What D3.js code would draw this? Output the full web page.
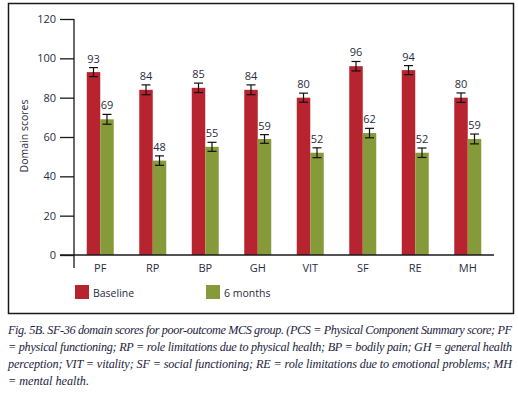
<!DOCTYPE html>
<html>
<head>
<meta charset="utf-8">
<script src="https://cdn.jsdelivr.net/npm/d3@7"></script>
<style>
  html, body { margin: 0; padding: 0; background: #fff; }
  svg { display: block; }
</style>
</head>
<body>
<svg id="chart" width="518" height="394"></svg>
<script>
const categories = ["PF", "RP", "BP", "GH", "VIT", "SF", "RE", "MH"];
const seriesNames = ["Baseline", "6 months"];
const baselineValues = [93, 84, 85, 84, 80, 96, 94, 80];
const sixMonthValues = [69, 48, 55, 59, 52, 62, 52, 59];
const baselineErrors = [2.3, 2.5, 2.4, 2.5, 2.3, 2.4, 2.3, 2.4];
const sixMonthErrors = [2.5, 2.4, 2.3, 2.2, 2.5, 2.4, 2.4, 2.5];
const yTicks = [0, 20, 40, 60, 80, 100, 120];
const captionLines = [
  "Fig. 5B. SF-36 domain scores for poor-outcome MCS group. (PCS = Physical Component Summary score; PF",
  "= physical functioning; RP = role limitations due to physical health; BP = bodily pain; GH = general health",
  "perception; VIT = vitality; SF = social functioning; RE = role limitations due to emotional problems; MH",
  "= mental health."
];

const colors = ["#B7242F", "#869A3A"];
const textColor = "#2a2c40";
const svg = d3.select("#chart");

// frame
svg.append("rect")
  .attr("x", 8.5).attr("y", 3.5).attr("width", 505).attr("height", 310)
  .attr("fill", "none").attr("stroke", "#1a1a1a").attr("stroke-width", 1.5);

const y = d3.scaleLinear().domain([0, 120]).range([255, 19]);
const x = d3.scaleBand().domain(categories).range([74, 494])
  .paddingInner(0.486).paddingOuter(0.243);
const xs = d3.scaleBand().domain(seriesNames).range([0, x.bandwidth()]);

// y axis
const yAxis = d3.axisLeft(y).tickValues(yTicks).tickSize(14).tickPadding(4).tickSizeOuter(0);
const gy = svg.append("g").attr("transform", "translate(74,0)").call(yAxis);
gy.select(".domain").remove();
gy.selectAll(".tick line").attr("stroke", "#1a1a1a").attr("stroke-width", 1.3);
gy.selectAll(".tick text").attr("font-family", "'Open Sans', sans-serif")
  .attr("font-size", 11).attr("fill", textColor);
svg.append("line").attr("x1", 74).attr("x2", 74).attr("y1", y(120)).attr("y2", 268)
  .attr("stroke", "#1a1a1a").attr("stroke-width", 1.3);

// y title
svg.append("text")
  .attr("transform", "translate(28," + 136 + ") rotate(-90)")
  .attr("text-anchor", "middle")
  .attr("font-family", "'Open Sans', sans-serif").attr("font-size", 10.5)
  .attr("fill", textColor).text("Domain scores");

// bars
const rows = categories.map((c, i) => ({
  cat: c,
  vals: [
    { s: seriesNames[0], v: baselineValues[i], e: baselineErrors[i], k: 0 },
    { s: seriesNames[1], v: sixMonthValues[i], e: sixMonthErrors[i], k: 1 }
  ]
}));

const groups = svg.selectAll("g.grp").data(rows).join("g")
  .attr("class", "grp")
  .attr("transform", d => "translate(" + x(d.cat) + ",0)");

groups.selectAll("rect").data(d => d.vals).join("rect")
  .attr("x", d => xs(d.s)).attr("width", xs.bandwidth())
  .attr("y", d => y(d.v)).attr("height", d => y(0) - y(d.v))
  .attr("fill", d => colors[d.k]);

const eb = groups.selectAll("g.eb").data(d => d.vals).join("g").attr("class", "eb");
eb.append("line")
  .attr("x1", d => xs(d.s) + xs.bandwidth() / 2).attr("x2", d => xs(d.s) + xs.bandwidth() / 2)
  .attr("y1", d => y(d.v + d.e)).attr("y2", d => y(d.v - d.e));
eb.append("line")
  .attr("x1", d => xs(d.s) + xs.bandwidth() / 2 - 4.5).attr("x2", d => xs(d.s) + xs.bandwidth() / 2 + 4.5)
  .attr("y1", d => y(d.v + d.e)).attr("y2", d => y(d.v + d.e));
eb.append("line")
  .attr("x1", d => xs(d.s) + xs.bandwidth() / 2 - 4.5).attr("x2", d => xs(d.s) + xs.bandwidth() / 2 + 4.5)
  .attr("y1", d => y(d.v - d.e)).attr("y2", d => y(d.v - d.e));
eb.selectAll("line").attr("stroke", "#111").attr("stroke-width", 1.2);

groups.selectAll("text.val").data(d => d.vals).join("text")
  .attr("class", "val")
  .attr("x", d => xs(d.s) + xs.bandwidth() / 2)
  .attr("y", d => y(d.v + d.e) - 5)
  .attr("text-anchor", "middle")
  .attr("font-family", "'Open Sans', sans-serif").attr("font-size", 11)
  .attr("fill", textColor).text(d => d.v);

// x axis
svg.append("line").attr("x1", 60).attr("x2", 494).attr("y1", y(0)).attr("y2", y(0))
  .attr("stroke", "#1a1a1a").attr("stroke-width", 1.3);
const xAxis = d3.axisBottom(x).tickSize(0).tickPadding(0);
const gx = svg.append("g").attr("transform", "translate(0,264)").call(xAxis);
gx.select(".domain").remove();
gx.selectAll(".tick text").attr("font-family", "'Open Sans', sans-serif")
  .attr("font-size", 11).attr("fill", textColor).attr("dy", "0.71em");

// legend
const legendX = [75, 206];
const leg = svg.selectAll("g.leg").data(seriesNames).join("g").attr("class", "leg")
  .attr("transform", (d, i) => "translate(" + legendX[i] + ",285)");
leg.append("rect").attr("width", 14).attr("height", 14).attr("fill", (d, i) => colors[i]);
leg.append("text").attr("x", 18).attr("y", 11.5)
  .attr("font-family", "'Open Sans', sans-serif").attr("font-size", 10.5)
  .attr("fill", textColor).text(d => d);

// caption
const capBase = [334, 351, 368, 385];
svg.selectAll("text.cap").data(captionLines).join("text")
  .attr("class", "cap")
  .attr("x", 8).attr("y", (d, i) => capBase[i])
  .attr("font-family", "'Liberation Serif', serif").attr("font-style", "italic")
  .attr("font-size", 12.2).attr("fill", "#232340")
  .each(function(d, i) {
    if (i < captionLines.length - 1) {
      d3.select(this).attr("textLength", 504).attr("lengthAdjust", "spacing");
    }
  })
  .text(d => d);
</script>
</body>
</html>
